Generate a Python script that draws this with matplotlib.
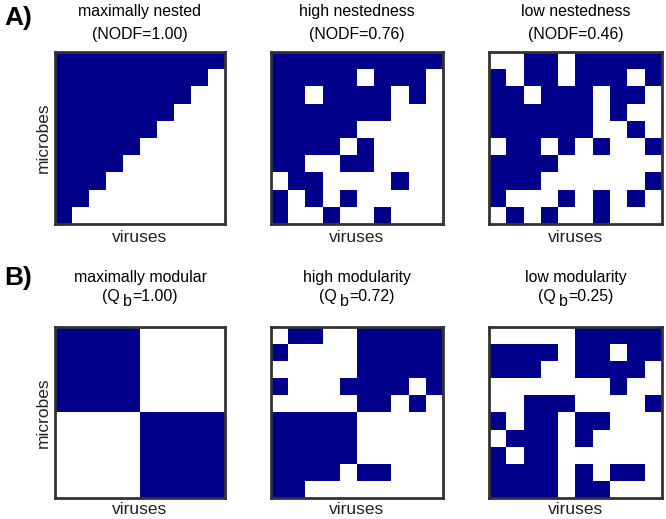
import numpy as np
import matplotlib
matplotlib.use("Agg")
import matplotlib.pyplot as plt
from matplotlib.colors import ListedColormap

plt.rcParams['font.family'] = ['Liberation Sans', 'DejaVu Sans']

# ---- data: interaction matrices (rows = microbes, cols = viruses) ----
nested_max = [[1 if c < 10 - r else 0 for c in range(10)] for r in range(10)]

nested_high = [
    [1, 1, 1, 1, 1, 1, 1, 1, 1, 1],
    [1, 1, 1, 1, 1, 0, 1, 1, 1, 0],
    [1, 1, 0, 1, 1, 1, 1, 0, 1, 0],
    [1, 1, 1, 1, 1, 1, 1, 0, 0, 0],
    [1, 1, 1, 1, 1, 0, 0, 0, 0, 0],
    [1, 1, 1, 1, 0, 1, 0, 0, 0, 0],
    [1, 1, 0, 0, 1, 1, 0, 0, 0, 0],
    [0, 1, 1, 0, 0, 0, 0, 1, 0, 0],
    [1, 0, 1, 0, 1, 0, 0, 0, 0, 0],
    [1, 0, 0, 1, 0, 0, 1, 0, 0, 0],
]

nested_low = [
    [0, 0, 1, 1, 0, 1, 1, 1, 1, 1],
    [1, 0, 1, 1, 0, 1, 1, 1, 0, 1],
    [1, 1, 0, 1, 1, 1, 0, 1, 1, 0],
    [1, 1, 1, 1, 1, 1, 0, 1, 0, 0],
    [1, 1, 1, 1, 1, 1, 0, 0, 1, 0],
    [0, 1, 1, 0, 1, 0, 1, 0, 0, 1],
    [1, 1, 1, 1, 0, 0, 0, 0, 0, 0],
    [1, 1, 1, 0, 0, 0, 0, 0, 0, 1],
    [1, 0, 0, 0, 1, 0, 1, 0, 1, 0],
    [0, 1, 0, 1, 0, 0, 1, 0, 0, 0],
]

modular_max = [
    [1, 0],
    [0, 1],
]

modular_high = [
    [0, 1, 1, 0, 0, 1, 1, 1, 1, 1],
    [1, 0, 0, 0, 0, 1, 1, 1, 1, 1],
    [0, 0, 0, 0, 0, 1, 1, 1, 1, 1],
    [1, 0, 0, 0, 1, 1, 1, 1, 0, 1],
    [0, 0, 0, 0, 0, 1, 1, 0, 1, 0],
    [1, 1, 1, 1, 1, 0, 0, 0, 0, 0],
    [1, 1, 1, 1, 1, 0, 0, 0, 0, 0],
    [1, 1, 1, 1, 1, 0, 0, 0, 0, 0],
    [1, 1, 1, 1, 0, 1, 1, 0, 0, 0],
    [1, 1, 0, 0, 0, 0, 0, 0, 0, 0],
]

modular_low = [
    [0, 0, 0, 0, 0, 1, 1, 1, 1, 1],
    [1, 1, 1, 1, 0, 1, 1, 0, 1, 1],
    [1, 1, 1, 0, 0, 1, 1, 1, 1, 0],
    [0, 0, 0, 0, 0, 0, 0, 1, 0, 0],
    [0, 0, 1, 1, 1, 0, 0, 0, 0, 1],
    [1, 0, 1, 1, 0, 1, 1, 0, 0, 0],
    [0, 1, 1, 1, 0, 1, 0, 0, 0, 0],
    [1, 0, 1, 1, 0, 0, 0, 0, 0, 0],
    [1, 1, 1, 1, 0, 1, 0, 1, 1, 0],
    [1, 1, 1, 1, 0, 1, 1, 0, 0, 0],
]

titles_A = ["maximally nested", "high nestedness", "low nestedness"]
nodf_values = ["1.00", "0.76", "0.46"]
titles_B = ["maximally modular", "high modularity", "low modularity"]
qb_values = ["1.00", "0.72", "0.25"]

matrices_A = [nested_max, nested_high, nested_low]
matrices_B = [modular_max, modular_high, modular_low]

# ---- figure ----
W, H = 666, 519
fig = plt.figure(figsize=(W / 100, H / 100), dpi=100)
renderer = fig.canvas.get_renderer()
cmap = ListedColormap(['white', '#00008a'])
txt_color = '#222222'
TFS = 11.4

xs = [(55, 225), (271, 443), (489, 662)]
ys = {'A': (52, 224), 'B': (327, 498)}
title_base = {'A': (16, 39), 'B': (282, 301)}
xlabel_y = {'A': 238, 'B': 510}


def px_axes(x0, x1, y0, y1):
    return fig.add_axes([x0 / W, 1 - y1 / H, (x1 - x0) / W, (y1 - y0) / H])


def fy(y):
    return 1 - y / H


def qb_line(cx_px, base_px, value):
    """Draw '(Q b=value)' with a lowered full-size 'b' subscript."""
    parts = ["(Q", "b", "=" + value + ")"]
    drops = [0, 4.5, 0]
    gaps = [3.0, 0.5, 0]
    texts, widths = [], []
    for p in parts:
        t = fig.text(0, 0, p, fontsize=TFS, ha='left', va='baseline', color='black')
        widths.append(t.get_window_extent(renderer).width)
        texts.append(t)
    total = sum(widths) + sum(gaps)
    x = cx_px - total / 2
    for t, w, d, g in zip(texts, widths, drops, gaps):
        t.set_position((x / W, fy(base_px + d)))
        x += w + g


for row, mats, titles in (('A', matrices_A, titles_A), ('B', matrices_B, titles_B)):
    y0, y1 = ys[row]
    b1, b2 = title_base[row]
    for i, (m, t) in enumerate(zip(mats, titles)):
        x0, x1 = xs[i]
        ax = px_axes(x0, x1, y0, y1)
        ax.imshow(np.array(m), cmap=cmap, vmin=0, vmax=1,
                  aspect='auto', interpolation='nearest')
        ax.set_xticks([])
        ax.set_yticks([])
        for s in ax.spines.values():
            s.set_linewidth(2.0)
            s.set_color('#333333')
        cxp = (x0 + x1) / 2
        cx = cxp / W
        fig.text(cx, fy(b1), t, fontsize=TFS,
                 ha='center', va='baseline', color='black')
        if row == 'A':
            fig.text(cx, fy(b2), "(NODF=" + nodf_values[i] + ")", fontsize=TFS,
                     ha='center', va='baseline', color='black')
        else:
            qb_line(cxp, b2, qb_values[i])
        fig.text(cx, fy(xlabel_y[row]), 'viruses', fontsize=12.5,
                 ha='center', va='center', color=txt_color)
        if i == 0:
            fig.text(43 / W, fy((y0 + y1) / 2), 'microbes', fontsize=12.5,
                     rotation=90, ha='center', va='center', color=txt_color)

fig.text(4 / W, fy(18), 'A)', fontsize=19,
         fontweight='bold', va='center', ha='left')
fig.text(4 / W, fy(278), 'B)', fontsize=19,
         fontweight='bold', va='center', ha='left')

fig.savefig('out.png', dpi=100)
